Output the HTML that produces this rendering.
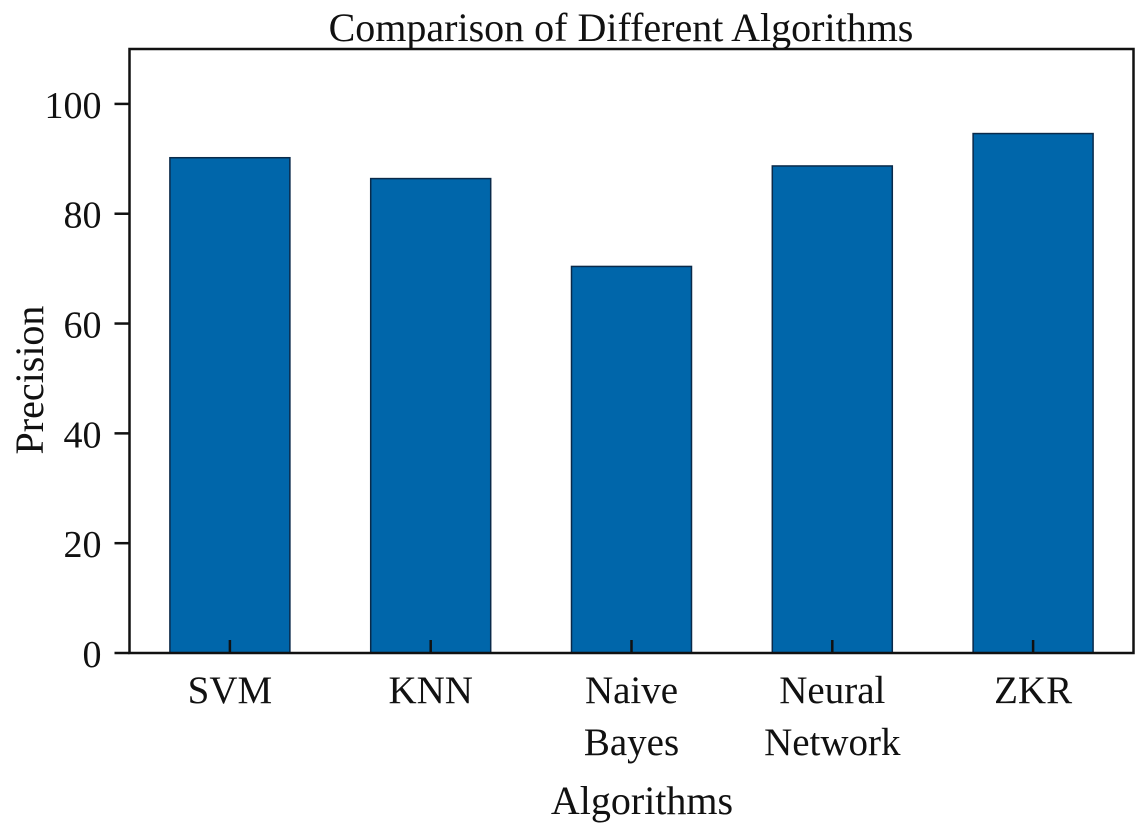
<!DOCTYPE html>
<html><head><meta charset="utf-8"><style>
body{margin:0;background:#fff}
svg text{font-family:"Liberation Serif",serif;fill:#111}
</style></head><body>
<svg id="chart" width="1137" height="826" viewBox="0 0 1137 826" xmlns="http://www.w3.org/2000/svg">
<text x="621" y="41" font-size="40" text-anchor="middle">Comparison of Different Algorithms</text>
<g id="plot"></g>
<text transform="translate(43,380) rotate(-90)" font-size="40" text-anchor="middle">Precision</text>
<text x="642" y="814" font-size="40" text-anchor="middle">Algorithms</text>
</svg>
<script>
const categories=[["SVM"],["KNN"],["Naive","Bayes"],["Neural","Network"],["ZKR"]];
const values=[90.2,86.4,70.4,88.7,94.6];
const yTicks=[0,20,40,60,80,100];
const NS="http://www.w3.org/2000/svg";
const L=129.5,R=1133.5,T=49,B=653,YMAX=110;
const step=(R-L)/categories.length;
function x(i){return L+step*(i+0.5);}
function y(v){return B-(B-T)*v/YMAX;}
const g=document.getElementById('plot');
function mk(tag,attrs){const e=document.createElementNS(NS,tag);for(const k in attrs)e.setAttribute(k,attrs[k]);g.appendChild(e);return e;}
const bw=120;
values.forEach((v,i)=>{
  const r=mk('rect',{x:x(i)-bw/2,y:y(v),width:bw,height:B-y(v),fill:'#0066aa',stroke:'#0a2a4a','stroke-width':1.5});
  
  
  const t=mk('line',{x1:x(i),x2:x(i),y1:B,y2:B-13,stroke:'#111','stroke-width':2.5});
  
  
  categories[i].forEach((s,j)=>{
    const tx=mk('text',{x:x(i),y:703+j*52,'font-size':39,'text-anchor':'middle'});
    tx.textContent=s;
    
    
  });
});
yTicks.forEach(v=>{
  const t=mk('line',{x1:L-15,x2:L,y1:y(v),y2:y(v),stroke:'#111','stroke-width':2.5});
  
  
  const tx=mk('text',{x:L-28,y:y(v)+14,'font-size':38,'text-anchor':'end'});
  tx.textContent=v;
  
  
});
const f=mk('rect',{x:L,y:T,width:R-L,height:B-T,fill:'none',stroke:'#111','stroke-width':2.5});


</script>
</body></html>
